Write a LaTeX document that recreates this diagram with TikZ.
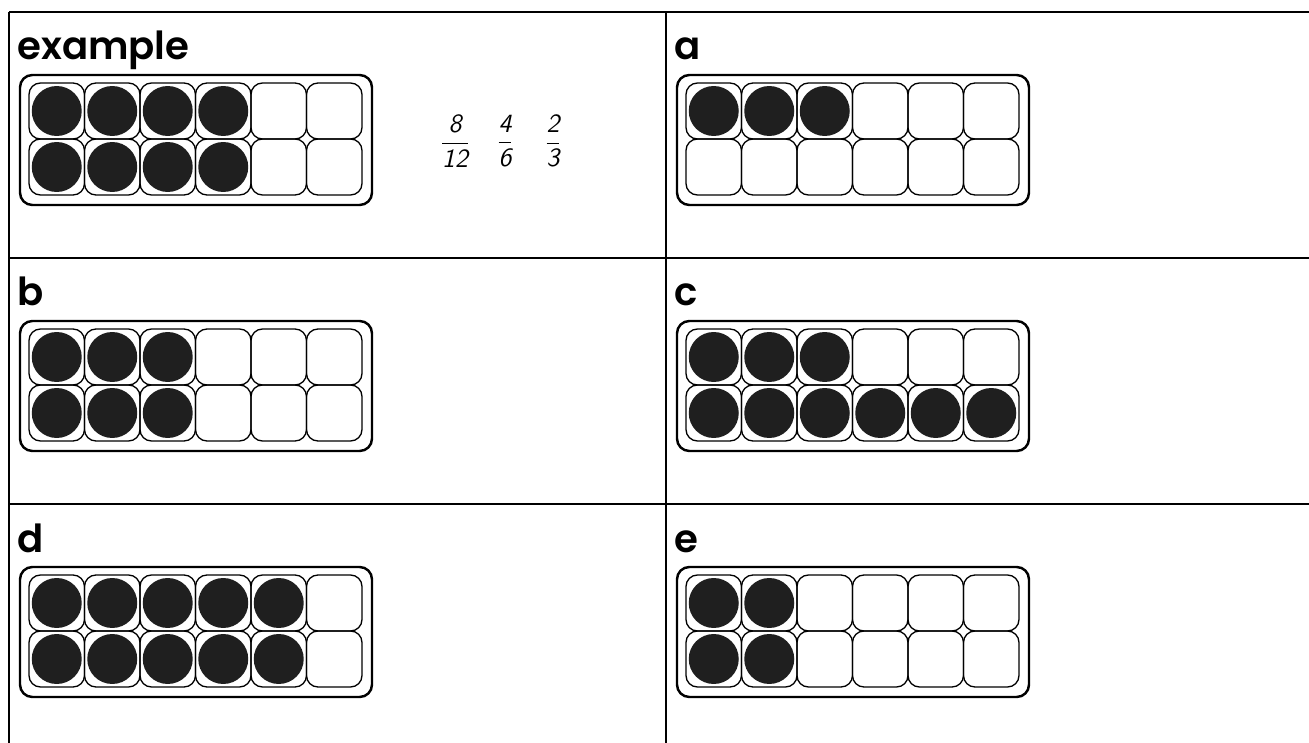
\documentclass[tikz,border=0pt]{standalone}
\usepackage{amsmath}
\usepackage{fontspec}
\newfontfamily\labelfont{Poppins SemiBold}
\usepackage{tikz}
\usetikzlibrary{positioning}

\newcommand{\hand}[1]{\textsf{\itshape #1}}

\begin{document}
\begin{tikzpicture}[
        x=0.02cm, y=-0.02cm,
        rule/.style={line width=1.7pt},
        tray/.style={draw, line width=1.4pt, rounded corners=7pt},
        cup/.style={draw, line width=0.75pt, rectangle, rounded corners=6.5pt, minimum width=1.11cm, minimum height=1.12cm, inner sep=0pt},
        counter/.style={circle, fill=black!88, inner sep=0pt, minimum size=1.0cm},
        panellabel/.style={anchor=base west, inner sep=0pt, font=\labelfont\fontsize{22}{24}\selectfont},
        fraction/.style={inner sep=0pt, font=\fontsize{15}{17}\selectfont},
    ]
        \useasboundingbox (0,0) rectangle (1309,743);

        % Table rules
        \draw[rule] (9,12) -- (1309,12);
        \draw[rule] (9,258) -- (1309,258);
        \draw[rule] (9,504) -- (1309,504);
        \draw[rule] (9,12) -- (9,743);
        \draw[rule] (666,12) -- (666,743);

        % Panels: x / y / name / label / dots on top row / dots on bottom row
        \foreach \X/\Y/\name/\lab/\nA/\nB in {9/12/ex/example/4/4, 666/12/a/a/3/0, 9/258/b/b/3/3,
                                               666/258/c/c/3/6, 9/504/d/d/5/5, 666/504/e/e/2/2} {
            \node[panellabel] (\name-lab) at (\X+8,\Y+48) {\lab};
            \draw[tray] (\X+11,\Y+63) rectangle (\X+363,\Y+193);
            \foreach \c in {1,...,6} {
                \node[cup] (\name-1-\c) at (\X+20+55.5*\c-27.75,\Y+99) {};
                \node[cup] (\name-2-\c) at (\X+20+55.5*\c-27.75,\Y+155) {};
                \ifnum\c>\nA\relax\else \node[counter] (\name-1-\c-dot) at (\name-1-\c) {};\fi
                \ifnum\c>\nB\relax\else \node[counter] (\name-2-\c-dot) at (\name-2-\c) {};\fi
            }
        }

        % Worked example
        \node[fraction] (frac1) at (455,141) {$\dfrac{\hand{8}}{\hand{12}}$};
        \node[fraction] (frac2) at (505,141) {$\dfrac{\hand{4}}{\hand{6}}$};
        \node[fraction] (frac3) at (553,141) {$\dfrac{\hand{2}}{\hand{3}}$};
    \end{tikzpicture}
\end{document}
